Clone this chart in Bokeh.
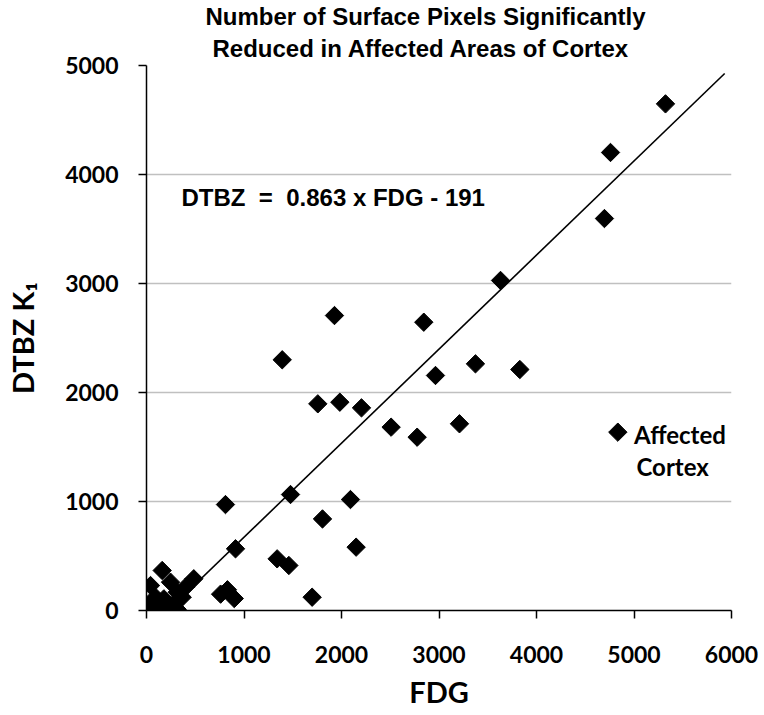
import numpy as np
from bokeh.plotting import figure
from bokeh.models import FixedTicker, Label, Legend, LegendItem, Title
from bokeh.embed import file_html
from bokeh.resources import INLINE

# ---------------- data ----------------
fdg = [5323, 4759, 4697, 3631, 1928, 2844, 1392, 3374, 3829, 2964,
       1757, 1983, 2205, 2509, 2776, 3210, 2092, 1477, 810, 1805,
       913, 2150, 1340, 1460, 760, 830, 900, 1699, 485, 161,
       41, 246, 400, 315, 0, 41, 178, 280, 315, 144, 212, 92, 366, 20]
dtbz = [4648, 4202, 3596, 3028, 2706, 2645, 2300, 2263, 2211, 2156,
        1896, 1911, 1859, 1682, 1590, 1713, 1018, 1064, 972, 840,
        566, 581, 474, 413, 150, 190, 110, 122, 291, 367,
        229, 260, 214, 168, 16, 61, 107, 61, 10, 5, 46, 122, 122, 30]

slope = 0.863
intercept = -191
trend_x_end = 5930

x_ticks = [0, 1000, 2000, 3000, 4000, 5000, 6000]
y_ticks = [0, 1000, 2000, 3000, 4000, 5000]

title_lines = ["Number of Surface Pixels Significantly",
               "Reduced in Affected Areas of Cortex"]
equation_text = "DTBZ\u00a0 =\u00a0 0.863 x FDG - 191"
legend_lines = ["Affected", "Cortex"]
x_label = "FDG"
y_label = "DTBZ K\u2081"

# legend key position (data units of the frame)
legend_key_x = 4834
legend_key_y = 1636

# ---------------- figure ----------------
W, H = 764, 715
p = figure(width=W, height=H, x_range=(0, 6000), y_range=(0, 5000),
           output_backend="svg", toolbar_location=None,
           min_border_left=146, min_border_right=W - 731,
           min_border_top=65, min_border_bottom=H - 610)
p.background_fill_color = "white"
p.border_fill_color = "white"
p.outline_line_color = None

LAT = "Lato"
for ax, ticks in ((p.xaxis, x_ticks), (p.yaxis, y_ticks)):
    ax.ticker = FixedTicker(ticks=ticks)
    ax.major_label_text_font = LAT
    ax.major_label_text_font_style = "bold"
    ax.major_label_text_font_size = "23px"
    ax.major_label_text_color = "black"
    ax.axis_line_color = "black"
    ax.axis_line_width = 1.5
    ax.major_tick_line_color = "black"
    ax.major_tick_line_width = 1.5
    ax.major_tick_out = 8
    ax.major_tick_in = 0
    ax.minor_tick_out = 0
    ax.minor_tick_in = 0
    ax.axis_label_text_font = LAT
    ax.axis_label_text_font_style = "bold"
    ax.axis_label_text_font_size = "29px"
    ax.axis_label_text_color = "black"
p.xaxis.major_label_standoff = 27
p.yaxis.major_label_standoff = 20
p.xaxis.axis_label = x_label
p.yaxis.axis_label = y_label
p.xaxis.axis_label_standoff = 8
p.yaxis.axis_label_standoff = 22

p.xgrid.visible = False
p.ygrid.ticker = FixedTicker(ticks=y_ticks)
p.ygrid.grid_line_color = "#c0c0c0"
p.ygrid.grid_line_width = 1.3

# titles (first added sits closest to the plot)
p.add_layout(Title(text=title_lines[1], align="left", offset=66, standoff=7,
                   text_font="Liberation Sans", text_font_style="bold",
                   text_font_size="24px", text_color="black"), "above")
p.add_layout(Title(text=title_lines[0], align="left", offset=59, standoff=0,
                   text_font="Liberation Sans", text_font_style="bold",
                   text_font_size="24px", text_color="black"), "above")

# trend line
tx = np.array([-intercept / slope, trend_x_end])
ty = slope * tx + intercept
p.line(tx, ty, line_color="black", line_width=1.6)

# points
r = p.scatter(fdg, dtbz, marker="square", size=13, angle=np.pi / 4,
              fill_color="black", line_color="black")

# legend: text via Legend, key drawn as rotated square like the points
legend = Legend(items=[LegendItem(label=legend_lines[0], renderers=[r])],
                location=(488, 159))
legend.border_line_color = None
legend.background_fill_alpha = 0
legend.padding = 0
legend.margin = 0
legend.spacing = 0
legend.glyph_width = 0
legend.glyph_height = 33
legend.label_height = 33
legend.label_standoff = 0
legend.label_text_font = LAT
legend.label_text_font_style = "bold"
legend.label_text_font_size = "24px"
legend.label_text_color = "black"
p.add_layout(legend)
p.scatter([legend_key_x], [legend_key_y], marker="square", size=13,
          angle=np.pi / 4, fill_color="black", line_color="black")

p.add_layout(Label(x=490, y=144, x_units="screen", y_units="screen",
                   text=legend_lines[1], text_font=LAT,
                   text_font_style="bold", text_font_size="24px",
                   text_color="black", text_baseline="alphabetic"))

# equation
p.add_layout(Label(x=35, y=413, x_units="screen", y_units="screen",
                   text=equation_text, text_font="Liberation Sans",
                   text_font_style="bold", text_font_size="24px",
                   text_color="black", text_baseline="alphabetic"))

open("out.html", "w").write(file_html(p, INLINE))
